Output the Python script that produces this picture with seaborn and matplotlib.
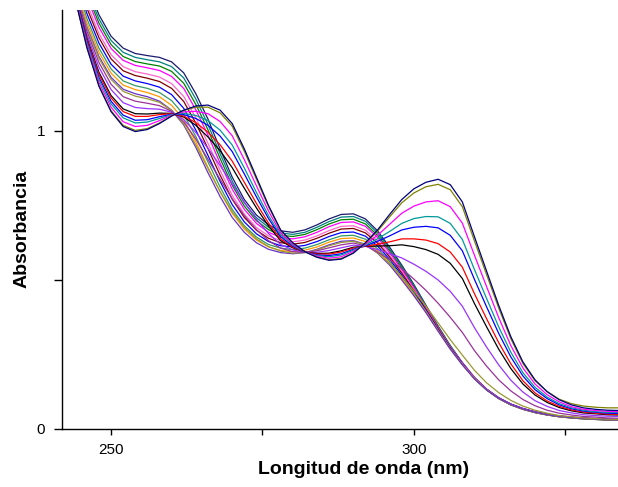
import matplotlib
matplotlib.use('Agg')
import matplotlib.pyplot as plt
import pandas as pd
import seaborn as sns

# wavelength grid (nm)
wavelengths = [242, 244, 246, 248, 250, 252, 254, 256, 258, 260, 262, 264, 266, 268, 270, 272,
               274, 276, 278, 280, 282, 284, 286, 288, 290, 292, 294, 296, 298, 300, 302, 304,
               306, 308, 310, 312, 314, 316, 318, 320, 322, 324, 326, 328, 330, 332, 334]

# first stage: shoulder at ~255 nm drops
abs_01 = [1.80, 1.63, 1.49, 1.39, 1.318, 1.278, 1.26, 1.253, 1.247, 1.232, 1.195, 1.125, 1.04, 0.94, 0.845, 0.77,
          0.718, 0.685, 0.665, 0.66, 0.668, 0.685, 0.705, 0.72, 0.722, 0.705, 0.665, 0.61, 0.55, 0.485, 0.415, 0.345,
          0.28, 0.222, 0.172, 0.133, 0.104, 0.083, 0.068, 0.057, 0.049, 0.043, 0.039, 0.036, 0.034, 0.032, 0.031]
abs_02 = [1.786, 1.615, 1.476, 1.376, 1.304, 1.264, 1.247, 1.239, 1.232, 1.216, 1.178, 1.107, 1.022, 0.924, 0.832, 0.759,
          0.709, 0.677, 0.658, 0.653, 0.66, 0.677, 0.696, 0.711, 0.713, 0.697, 0.658, 0.604, 0.545, 0.481, 0.413, 0.343,
          0.279, 0.223, 0.173, 0.134, 0.105, 0.084, 0.069, 0.058, 0.05, 0.044, 0.04, 0.037, 0.035, 0.033, 0.032]
abs_03 = [1.772, 1.60, 1.462, 1.362, 1.29, 1.25, 1.233, 1.225, 1.218, 1.20, 1.16, 1.089, 1.004, 0.908, 0.818, 0.748,
          0.699, 0.669, 0.65, 0.646, 0.653, 0.669, 0.688, 0.702, 0.704, 0.688, 0.65, 0.598, 0.54, 0.477, 0.41, 0.342,
          0.278, 0.221, 0.171, 0.132, 0.103, 0.082, 0.067, 0.056, 0.048, 0.042, 0.038, 0.035, 0.033, 0.031, 0.03]
abs_04 = [1.758, 1.585, 1.448, 1.348, 1.277, 1.237, 1.22, 1.212, 1.203, 1.183, 1.143, 1.071, 0.986, 0.892, 0.805, 0.737,
          0.69, 0.66, 0.643, 0.638, 0.645, 0.66, 0.679, 0.693, 0.695, 0.68, 0.643, 0.592, 0.535, 0.474, 0.408, 0.34,
          0.276, 0.222, 0.173, 0.134, 0.105, 0.084, 0.069, 0.058, 0.05, 0.044, 0.04, 0.037, 0.035, 0.033, 0.032]
abs_05 = [1.737, 1.563, 1.427, 1.327, 1.256, 1.216, 1.199, 1.191, 1.181, 1.159, 1.116, 1.044, 0.959, 0.868, 0.784, 0.721,
          0.676, 0.648, 0.632, 0.628, 0.634, 0.648, 0.666, 0.68, 0.682, 0.667, 0.631, 0.583, 0.528, 0.468, 0.404, 0.337,
          0.275, 0.219, 0.17, 0.132, 0.103, 0.082, 0.067, 0.056, 0.048, 0.042, 0.038, 0.035, 0.033, 0.031, 0.03]
abs_06 = [1.723, 1.548, 1.413, 1.313, 1.242, 1.202, 1.186, 1.177, 1.166, 1.143, 1.099, 1.026, 0.941, 0.852, 0.771, 0.71,
          0.667, 0.64, 0.625, 0.62, 0.626, 0.64, 0.657, 0.671, 0.673, 0.658, 0.624, 0.577, 0.523, 0.464, 0.401, 0.336,
          0.273, 0.218, 0.169, 0.131, 0.102, 0.081, 0.066, 0.055, 0.047, 0.041, 0.037, 0.034, 0.032, 0.03, 0.029]
abs_07 = [1.705, 1.528, 1.395, 1.295, 1.224, 1.184, 1.168, 1.159, 1.147, 1.122, 1.076, 1.003, 0.918, 0.831, 0.753, 0.695,
          0.655, 0.629, 0.615, 0.611, 0.616, 0.629, 0.646, 0.659, 0.661, 0.647, 0.614, 0.569, 0.516, 0.459, 0.398, 0.333,
          0.272, 0.219, 0.171, 0.133, 0.104, 0.083, 0.068, 0.057, 0.049, 0.043, 0.039, 0.036, 0.034, 0.032, 0.031]
abs_08 = [1.688, 1.51, 1.378, 1.278, 1.208, 1.168, 1.152, 1.143, 1.129, 1.102, 1.055, 0.981, 0.896, 0.812, 0.737, 0.682,
          0.644, 0.619, 0.607, 0.602, 0.607, 0.619, 0.635, 0.648, 0.65, 0.637, 0.605, 0.562, 0.51, 0.455, 0.395, 0.331,
          0.27, 0.216, 0.169, 0.131, 0.102, 0.081, 0.066, 0.055, 0.047, 0.041, 0.037, 0.034, 0.032, 0.03, 0.029]
abs_09 = [1.674, 1.495, 1.364, 1.264, 1.194, 1.154, 1.139, 1.129, 1.115, 1.086, 1.038, 0.963, 0.878, 0.796, 0.724, 0.671,
          0.634, 0.611, 0.599, 0.595, 0.60, 0.611, 0.627, 0.639, 0.641, 0.629, 0.598, 0.556, 0.505, 0.451, 0.393, 0.33,
          0.269, 0.217, 0.17, 0.132, 0.103, 0.082, 0.067, 0.056, 0.048, 0.042, 0.038, 0.035, 0.033, 0.031, 0.03]
abs_10 = [1.66, 1.48, 1.35, 1.25, 1.18, 1.14, 1.125, 1.115, 1.10, 1.07, 1.02, 0.945, 0.86, 0.78, 0.71, 0.66,
          0.625, 0.603, 0.592, 0.588, 0.592, 0.603, 0.618, 0.63, 0.632, 0.62, 0.59, 0.55, 0.50, 0.447, 0.39, 0.328,
          0.268, 0.215, 0.168, 0.131, 0.103, 0.082, 0.067, 0.056, 0.048, 0.042, 0.038, 0.035, 0.033, 0.031, 0.03]

# second stage: band at ~305 nm grows, ~265 nm band appears
abs_11 = [1.664, 1.478, 1.346, 1.244, 1.173, 1.133, 1.117, 1.108, 1.096, 1.069, 1.023, 0.953, 0.874, 0.797, 0.729, 0.677,
          0.638, 0.612, 0.597, 0.59, 0.592, 0.601, 0.615, 0.626, 0.63, 0.618, 0.591, 0.555, 0.511, 0.463, 0.412, 0.356,
          0.30, 0.248, 0.197, 0.155, 0.122, 0.096, 0.077, 0.063, 0.053, 0.045, 0.041, 0.037, 0.035, 0.033, 0.032]
abs_12 = [1.672, 1.474, 1.336, 1.23, 1.157, 1.115, 1.10, 1.093, 1.085, 1.066, 1.03, 0.973, 0.905, 0.838, 0.773, 0.716,
          0.669, 0.632, 0.607, 0.595, 0.593, 0.598, 0.608, 0.618, 0.624, 0.615, 0.594, 0.568, 0.538, 0.503, 0.465, 0.422,
          0.375, 0.324, 0.263, 0.211, 0.165, 0.128, 0.099, 0.078, 0.063, 0.053, 0.047, 0.042, 0.04, 0.037, 0.036]
abs_13 = [1.682, 1.469, 1.325, 1.214, 1.139, 1.095, 1.079, 1.075, 1.073, 1.063, 1.038, 0.995, 0.942, 0.884, 0.823, 0.761,
          0.704, 0.656, 0.619, 0.601, 0.593, 0.593, 0.599, 0.608, 0.617, 0.613, 0.602, 0.588, 0.574, 0.553, 0.529, 0.50,
          0.462, 0.412, 0.34, 0.275, 0.215, 0.164, 0.124, 0.095, 0.076, 0.062, 0.054, 0.048, 0.045, 0.043, 0.042]
abs_14 = [1.692, 1.464, 1.313, 1.197, 1.119, 1.074, 1.058, 1.057, 1.06, 1.059, 1.047, 1.019, 0.98, 0.934, 0.877, 0.808,
          0.742, 0.681, 0.632, 0.608, 0.594, 0.589, 0.59, 0.598, 0.61, 0.613, 0.614, 0.615, 0.618, 0.612, 0.602, 0.586,
          0.556, 0.505, 0.421, 0.343, 0.268, 0.203, 0.151, 0.114, 0.089, 0.072, 0.061, 0.054, 0.051, 0.048, 0.047]
abs_15 = [1.696, 1.462, 1.308, 1.19, 1.111, 1.065, 1.049, 1.049, 1.055, 1.058, 1.05, 1.028, 0.996, 0.954, 0.899, 0.828,
          0.757, 0.691, 0.638, 0.61, 0.594, 0.587, 0.587, 0.594, 0.607, 0.613, 0.62, 0.628, 0.638, 0.638, 0.634, 0.622,
          0.594, 0.543, 0.454, 0.37, 0.29, 0.219, 0.162, 0.121, 0.094, 0.076, 0.064, 0.057, 0.053, 0.05, 0.049]
abs_16 = [1.702, 1.459, 1.301, 1.18, 1.10, 1.053, 1.036, 1.038, 1.048, 1.056, 1.055, 1.042, 1.019, 0.983, 0.931, 0.856,
          0.779, 0.706, 0.645, 0.614, 0.594, 0.584, 0.582, 0.588, 0.603, 0.615, 0.63, 0.648, 0.668, 0.677, 0.68, 0.675,
          0.65, 0.598, 0.502, 0.41, 0.321, 0.242, 0.178, 0.132, 0.102, 0.081, 0.068, 0.06, 0.056, 0.053, 0.052]
abs_17 = [1.706, 1.457, 1.296, 1.173, 1.091, 1.044, 1.027, 1.03, 1.042, 1.055, 1.059, 1.052, 1.035, 1.003, 0.953, 0.876,
          0.794, 0.716, 0.651, 0.617, 0.594, 0.582, 0.578, 0.584, 0.60, 0.617, 0.638, 0.663, 0.69, 0.706, 0.713, 0.712,
          0.69, 0.636, 0.535, 0.438, 0.343, 0.258, 0.189, 0.14, 0.107, 0.085, 0.071, 0.063, 0.058, 0.056, 0.055]
abs_18 = [1.712, 1.454, 1.289, 1.163, 1.08, 1.031, 1.015, 1.019, 1.035, 1.053, 1.064, 1.066, 1.058, 1.032, 0.984, 0.904,
          0.816, 0.731, 0.658, 0.62, 0.595, 0.58, 0.573, 0.578, 0.596, 0.62, 0.65, 0.687, 0.724, 0.748, 0.762, 0.766,
          0.746, 0.691, 0.583, 0.478, 0.374, 0.28, 0.205, 0.151, 0.115, 0.091, 0.075, 0.066, 0.062, 0.059, 0.058]
abs_19 = [1.718, 1.451, 1.282, 1.153, 1.068, 1.019, 1.002, 1.008, 1.027, 1.051, 1.069, 1.08, 1.08, 1.061, 1.016, 0.932,
          0.838, 0.746, 0.666, 0.624, 0.595, 0.577, 0.568, 0.572, 0.591, 0.624, 0.664, 0.712, 0.759, 0.792, 0.813, 0.821,
          0.803, 0.746, 0.631, 0.518, 0.406, 0.303, 0.22, 0.162, 0.126, 0.10, 0.085, 0.077, 0.073, 0.071, 0.071]
abs_20 = [1.72, 1.45, 1.28, 1.15, 1.065, 1.015, 0.998, 1.005, 1.025, 1.05, 1.07, 1.084, 1.087, 1.07, 1.025, 0.94,
          0.845, 0.75, 0.668, 0.625, 0.595, 0.576, 0.566, 0.57, 0.59, 0.625, 0.668, 0.72, 0.77, 0.806, 0.828, 0.838,
          0.82, 0.762, 0.645, 0.53, 0.415, 0.31, 0.225, 0.165, 0.125, 0.098, 0.081, 0.071, 0.066, 0.063, 0.062]

spectra = [abs_01, abs_02, abs_03, abs_04, abs_05, abs_06, abs_07, abs_08, abs_09, abs_10,
           abs_11, abs_12, abs_13, abs_14, abs_15, abs_16, abs_17, abs_18, abs_19, abs_20]

line_colors = ['#1a1a6e', '#008080', '#008000', '#ff00ff', '#ff66cc', '#800000', '#0000ff', '#339966',
               '#ff9900', '#6633cc', '#999933', '#993399', '#9933ff', '#000000', '#ff0000', '#0000ff',
               '#009999', '#ff00ff', '#808000', '#000080']

x_ticks = [250, 275, 300, 325]
x_tick_labels = ['250', '', '300', '']
y_ticks = [0, 0.5, 1]
y_tick_labels = ['0', '', '1']

rows = []
for i, spec in enumerate(spectra):
    for wl, a in zip(wavelengths, spec):
        rows.append({'wl': wl, 'abs': a, 'curve': f'c{i:02d}'})
df = pd.DataFrame(rows)

sns.set_style('ticks')
plt.rcParams['font.family'] = ['Liberation Sans', 'DejaVu Sans']
plt.rcParams['text.color'] = 'black'
plt.rcParams['xtick.labelcolor'] = 'black'
plt.rcParams['ytick.labelcolor'] = 'black'

fig = plt.figure(figsize=(6.18, 4.87), dpi=100)
ax = fig.add_axes([62 / 618, 1 - 429 / 487, 556 / 618, 419 / 487])

sns.lineplot(data=df, x='wl', y='abs', hue='curve', palette=line_colors, legend=False,
             estimator=None, linewidth=0.9, ax=ax)

ax.set_xlim(241.9, 333.7)
ax.set_ylim(0, 1.406)
sns.despine(ax=ax)
for side in ['left', 'bottom']:
    ax.spines[side].set_color('black')
    ax.spines[side].set_linewidth(1.0)

ax.set_xticks(x_ticks)
ax.set_xticklabels(x_tick_labels)
ax.set_yticks(y_ticks)
ax.set_yticklabels(y_tick_labels)
ax.tick_params(axis='x', direction='out', length=4, width=1, color='black', pad=6,
               labelsize=11, labelcolor='black')
ax.tick_params(axis='y', direction='out', length=6, width=1, color='black', pad=6,
               labelsize=11, labelcolor='black')

ax.set_xlabel('')
ax.set_ylabel('')
fig.text(363.5 / 618, 1 - 470 / 487, 'Longitud de onda (nm)', ha='center', va='center',
         fontsize=14, fontweight='bold', color='black')
fig.text(22 / 618, 1 - 229 / 487, 'Absorbancia', ha='center', va='center', rotation=90,
         fontsize=14, fontweight='bold', color='black')

fig.savefig('out.png', dpi=100)
